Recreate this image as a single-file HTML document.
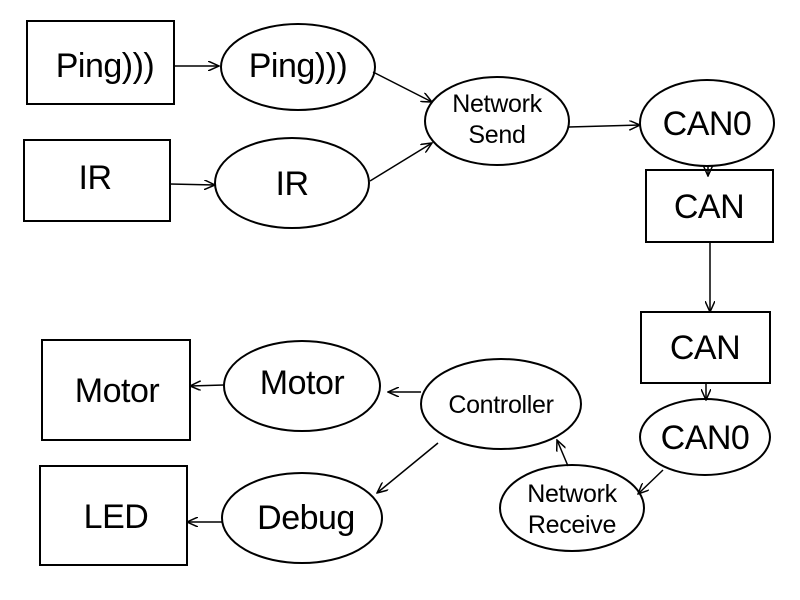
<!DOCTYPE html>
<html><head><meta charset="utf-8"><style>
html,body{margin:0;padding:0;background:#fff;}
svg{display:block;}
text{font-family:"Liberation Sans",Arial,sans-serif;fill:#000;text-anchor:middle;}
</style></head><body>
<svg width="800" height="600" viewBox="0 0 800 600" xmlns="http://www.w3.org/2000/svg">
<defs>
<marker id="a" markerWidth="12" markerHeight="10" refX="11" refY="5" orient="auto" markerUnits="userSpaceOnUse">
<path d="M0,0 L11,5 L0,10" fill="none" stroke="#000" stroke-width="1.5"/>
</marker>
</defs>
<g fill="#fff" stroke="#000" stroke-width="2">
<rect x="27" y="21" width="147" height="83"/>
<rect x="24" y="140" width="146" height="81"/>
<rect x="646" y="170" width="127" height="72"/>
<rect x="641" y="312" width="129" height="71"/>
<rect x="42" y="340" width="148" height="100"/>
<rect x="40" y="466" width="147" height="99"/>
<ellipse cx="298" cy="67" rx="77" ry="43"/>
<ellipse cx="292" cy="183" rx="77" ry="45"/>
<ellipse cx="497" cy="121" rx="72" ry="44"/>
<ellipse cx="707" cy="123" rx="67" ry="43"/>
<ellipse cx="705" cy="437" rx="65" ry="38"/>
<ellipse cx="572" cy="508" rx="72" ry="43"/>
<ellipse cx="501" cy="404" rx="80" ry="45"/>
<ellipse cx="302" cy="386" rx="78" ry="45"/>
<ellipse cx="302" cy="518" rx="80" ry="45"/>
</g>
<g stroke="#000" stroke-width="1.5" marker-end="url(#a)">
<line x1="174" y1="66" x2="219" y2="66"/>
<line x1="170" y1="184" x2="215" y2="185"/>
<line x1="373" y1="72" x2="432" y2="102"/>
<line x1="370" y1="181" x2="432" y2="143"/>
<line x1="569" y1="127" x2="640" y2="125"/>
<line x1="708" y1="166" x2="708" y2="176"/>
<line x1="710" y1="243" x2="710" y2="312"/>
<line x1="706" y1="383" x2="706" y2="400"/>
<line x1="663" y1="470" x2="638" y2="494"/>
<line x1="568" y1="466" x2="557" y2="440"/>
<line x1="421" y1="392" x2="388" y2="392"/>
<line x1="438" y1="443" x2="377" y2="493"/>
<line x1="224" y1="385" x2="190" y2="386"/>
<line x1="222" y1="522" x2="187" y2="522"/>
</g>
<g font-size="34" letter-spacing="-0.5">
<text x="105" y="77">Ping)))</text>
<text x="95" y="189">IR</text>
<text x="298" y="77">Ping)))</text>
<text x="292" y="195">IR</text>
<text x="707" y="135">CAN0</text>
<text x="709" y="218">CAN</text>
<text x="705" y="359">CAN</text>
<text x="705" y="449">CAN0</text>
<text x="302" y="394">Motor</text>
<text x="306" y="529">Debug</text>
<text x="117" y="402">Motor</text>
<text x="116" y="528">LED</text>
</g>
<g font-size="25" letter-spacing="-0.3">
<text x="497" y="112">Network</text>
<text x="497" y="143">Send</text>
<text x="501" y="413">Controller</text>
<text x="572" y="502">Network</text>
<text x="572" y="533">Receive</text>
</g>
</svg>
</body></html>
